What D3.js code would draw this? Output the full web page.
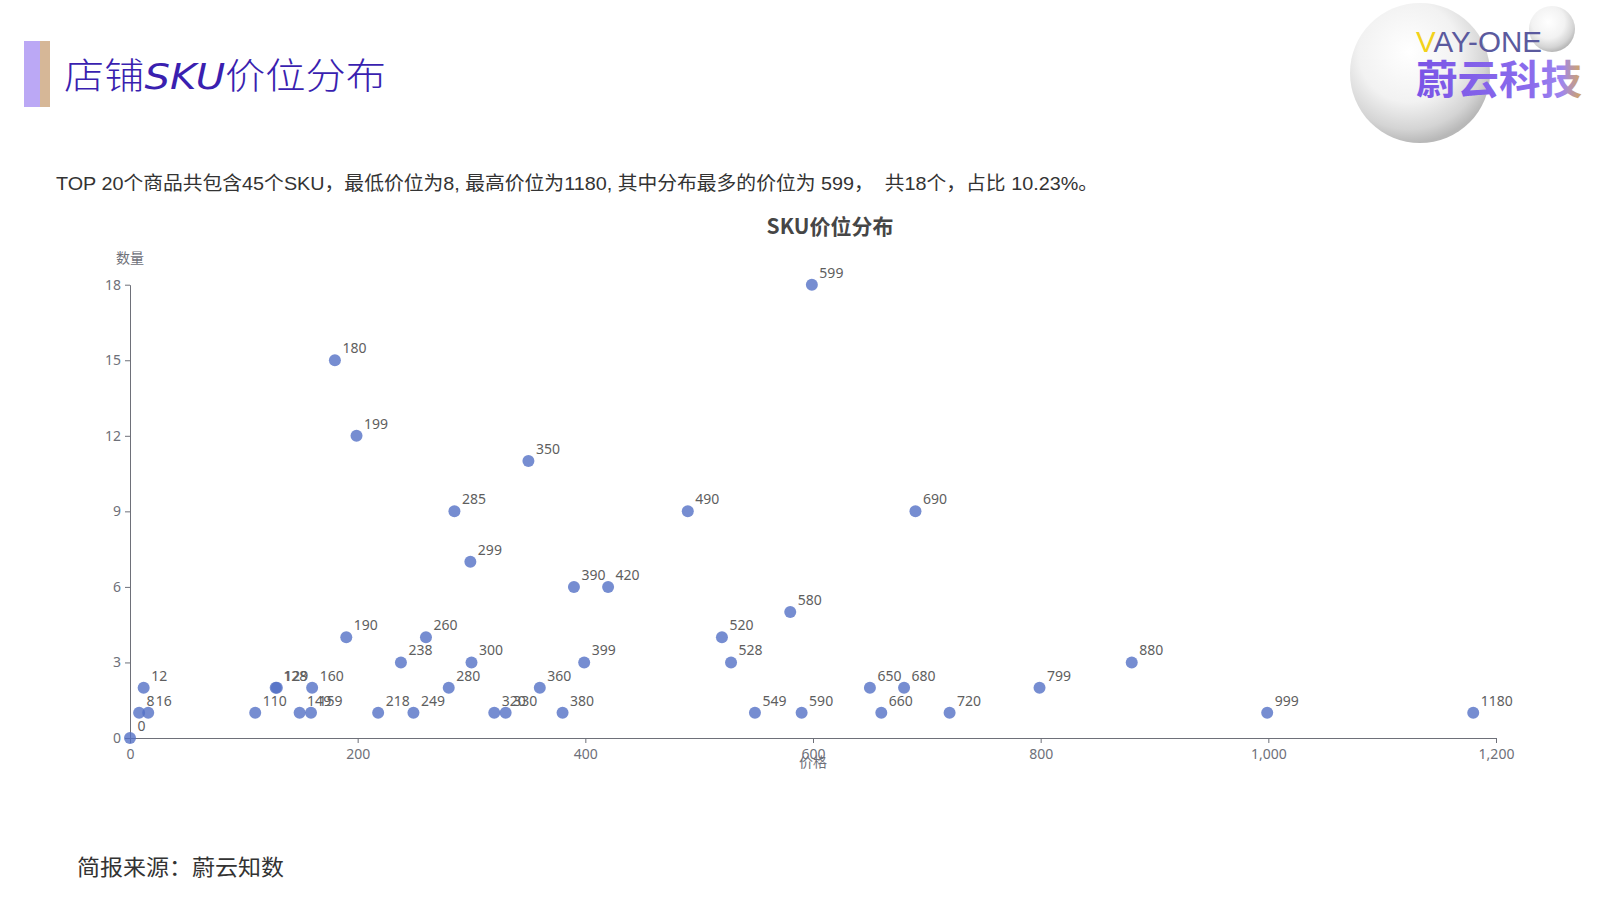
<!DOCTYPE html>
<html>
<head>
<meta charset="utf-8">
<script src="https://cdn.jsdelivr.net/npm/d3@7/dist/d3.min.js"></script>
<style>
  html, body { margin: 0; padding: 0; background: #fff; }
  svg { display: block; }
</style>
</head>
<body>
<svg id="chart" width="1600" height="900"></svg>
<script>
// ---- data ----
const prices = [0, 8, 12, 16, 110, 128, 129, 149, 159, 160, 180, 190, 199, 218, 238, 249, 260, 280, 285, 299, 300, 320, 330, 350, 360, 380, 390, 399, 420, 490, 520, 528, 549, 580, 590, 599, 650, 660, 680, 690, 720, 799, 880, 999, 1180];
const counts = [0, 1, 2, 1, 1, 2, 2, 1, 1, 2, 15, 4, 12, 1, 3, 1, 4, 2, 9, 7, 3, 1, 1, 11, 2, 1, 6, 3, 6, 9, 4, 3, 1, 5, 1, 18, 2, 1, 2, 9, 1, 2, 3, 1, 1];
const xTicks = [0, 200, 400, 600, 800, 1000, 1200];
const yTicks = [0, 3, 6, 9, 12, 15, 18];
const pageTitle = "店铺SKU价位分布";
const summary = "TOP 20个商品共包含45个SKU，最低价位为8, 最高价位为1180, 其中分布最多的价位为 599，  共18个，占比 10.23%。";
const chartTitle = "SKU价位分布";
const yName = "数量";
const xName = "价格";
const source = "简报来源：蔚云知数";

const svg = d3.select("#chart");
const CJK = "'Noto Sans CJK SC', 'Noto Sans', sans-serif";
const LAT = "'Liberation Sans', 'Noto Sans CJK SC', sans-serif";

// ---- header ----
svg.append("rect").attr("x", 24).attr("y", 41).attr("width", 16).attr("height", 66).attr("fill", "#bba8f5");
svg.append("rect").attr("x", 40).attr("y", 41).attr("width", 10).attr("height", 66).attr("fill", "#d6b797");
const tt = svg.append("text").attr("x", 64).attr("y", 89)
  .attr("font-family", CJK).attr("font-size", 36).attr("font-weight", 300).attr("fill", "#3a1fb0")
  .attr("textLength", 322).attr("lengthAdjust", "spacingAndGlyphs");
tt.append("tspan").text("店铺");
tt.append("tspan").attr("font-style", "italic").attr("font-family", "'DejaVu Sans', sans-serif").text("SKU");
tt.append("tspan").text("价位分布");

// ---- logo ----
const defs = svg.append("defs");
const rg = defs.append("radialGradient").attr("id", "sph").attr("cx", "42%").attr("cy", "35%").attr("r", "65%");
rg.append("stop").attr("offset", "0%").attr("stop-color", "#ffffff");
rg.append("stop").attr("offset", "55%").attr("stop-color", "#f2f2f2");
rg.append("stop").attr("offset", "85%").attr("stop-color", "#d4d4d4");
rg.append("stop").attr("offset", "100%").attr("stop-color", "#b8b8b8");
const lg = defs.append("linearGradient").attr("id", "logoTxt").attr("x1", "0").attr("x2", "1").attr("y1", "0").attr("y2", "0");
lg.append("stop").attr("offset", "0%").attr("stop-color", "#7a55e6");
lg.append("stop").attr("offset", "70%").attr("stop-color", "#8b6cec");
lg.append("stop").attr("offset", "88%").attr("stop-color", "#9f86ee");
lg.append("stop").attr("offset", "100%").attr("stop-color", "#d4a85a");
svg.append("circle").attr("cx", 1420).attr("cy", 73).attr("r", 70).attr("fill", "url(#sph)");
svg.append("circle").attr("cx", 1552).attr("cy", 29).attr("r", 23).attr("fill", "url(#sph)");
const vt = svg.append("text").attr("x", 1416).attr("y", 52)
  .attr("font-family", "'Liberation Sans', sans-serif").attr("font-size", 30)
  .attr("textLength", 126).attr("lengthAdjust", "spacingAndGlyphs");
vt.append("tspan").attr("fill", "#f2d21b").text("V");
vt.append("tspan").attr("fill", "#5b5a9e").text("AY-ONE");
svg.append("text").attr("x", 1416).attr("y", 94)
  .attr("font-family", CJK).attr("font-size", 40).attr("font-weight", "bold").attr("fill", "url(#logoTxt)")
  .attr("textLength", 166).attr("lengthAdjust", "spacingAndGlyphs").text("蔚云科技");

// ---- summary ----
svg.append("text").attr("x", 56).attr("y", 190)
  .attr("font-family", LAT).attr("font-size", 19).attr("fill", "#333")
  .attr("textLength", 1042).attr("lengthAdjust", "spacingAndGlyphs")
  .style("white-space", "pre").text(summary);

// ---- chart ----
const x = d3.scaleLinear().domain([0, 1200]).range([130, 1496]);
const y = d3.scaleLinear().domain([0, 18]).range([738, 284.7]);
const axisColor = "#6e7079";

svg.append("text").attr("x", 830).attr("y", 234).attr("text-anchor", "middle")
  .attr("font-family", CJK).attr("font-size", 21).attr("font-weight", "bold").attr("fill", "#464646")
  .text(chartTitle);

const gx = svg.append("g").attr("transform", `translate(0,${y(0)})`)
  .call(d3.axisBottom(x).tickValues(xTicks).tickSize(5).tickSizeOuter(0).tickPadding(6).tickFormat(d3.format(",")));
const gy = svg.append("g").attr("transform", `translate(${x(0)},0)`)
  .call(d3.axisLeft(y).tickValues(yTicks).tickSize(5).tickSizeOuter(0).tickPadding(4));
[gx, gy].forEach(g => {
  g.select(".domain").attr("stroke", axisColor).attr("stroke-width", 1);
  g.selectAll(".tick line").attr("stroke", axisColor);
  g.selectAll(".tick text").attr("fill", axisColor).attr("font-size", 14).attr("font-family", "'Noto Sans', sans-serif");
});

svg.append("text").attr("x", x(0)).attr("y", 263).attr("text-anchor", "middle")
  .attr("font-family", CJK).attr("font-size", 14).attr("fill", axisColor).text(yName);
svg.append("text").attr("x", 813).attr("y", 767).attr("text-anchor", "middle")
  .attr("font-family", CJK).attr("font-size", 14).attr("fill", axisColor).text(xName);

const pts = prices.map((p, i) => ({ p, c: counts[i] }));
svg.append("g").selectAll("circle").data(pts).join("circle")
  .attr("cx", d => x(d.p)).attr("cy", d => y(d.c)).attr("r", 6)
  .attr("fill", "#5470c6").attr("fill-opacity", 0.8);
svg.append("g").selectAll("text").data(pts).join("text")
  .attr("x", d => x(d.p) + 7.5).attr("y", d => y(d.c) - 7)
  .attr("font-family", "'Noto Sans', sans-serif").attr("font-size", 14).attr("fill", "#5e5e5e")
  .text(d => d.p);

// ---- footer ----
svg.append("text").attr("x", 77).attr("y", 875)
  .attr("font-family", CJK).attr("font-size", 22).attr("fill", "#333")
  .attr("textLength", 207).attr("lengthAdjust", "spacingAndGlyphs").text(source);
</script>
</body>
</html>
